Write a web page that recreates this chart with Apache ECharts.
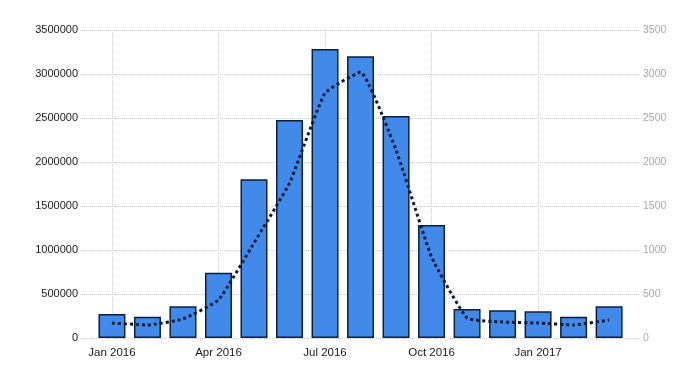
<!DOCTYPE html>
<html>
<head>
<meta charset="utf-8">
<script src="https://cdn.jsdelivr.net/npm/echarts@6/dist/echarts.min.js"></script>
<style>html,body{margin:0;padding:0;background:#fff}#c{width:700px;height:375px}</style>
</head>
<body>
<div id="c"></div>
<script>
var months = ['Jan 2016','Feb 2016','Mar 2016','Apr 2016','May 2016','Jun 2016','Jul 2016','Aug 2016','Sep 2016','Oct 2016','Nov 2016','Dec 2016','Jan 2017','Feb 2017','Mar 2017'];
var barValues = [273000, 242000, 360000, 742000, 1803000, 2477000, 3284000, 3201000, 2523000, 1284000, 330000, 315000, 303000, 242000, 360000];
var lineValues = [170, 148, 216, 432, 1080, 1760, 2783, 3022, 2136, 920, 227, 182, 170, 148, 204];
var tickIdx = [0, 3, 6, 9, 12];
var leftTicks = [0, 500000, 1000000, 1500000, 2000000, 2500000, 3000000, 3500000];
var rightTicks = [0, 500, 1000, 1500, 2000, 2500, 3000, 3500];

var font = "'Liberation Sans Narrow','Arial Narrow','Liberation Sans',Arial,sans-serif";
var chart = echarts.init(document.getElementById('c'));
chart.setOption({
  animation: false,
  backgroundColor: '#fff',
  grid: { left: 80, right: 60, top: 30, bottom: 37 },
  xAxis: {
    type: 'value',
    min: -0.9,
    max: 14.87,
    axisLine: { show: false },
    axisTick: { show: false, customValues: tickIdx },
    splitLine: { show: true, customValues: tickIdx, lineStyle: { color: '#cfcfcf', type: 'dotted', width: 1 } },
    axisLabel: {
      customValues: tickIdx,
      formatter: function (v) { return months[Math.round(v)]; },
      color: '#1a1a1a', fontFamily: font, fontSize: 11.5, margin: 9
    }
  },
  yAxis: [
    {
      type: 'value', min: leftTicks[0], max: leftTicks[leftTicks.length - 1], interval: 500000,
      axisLine: { show: false }, axisTick: { show: false },
      splitLine: { show: true, lineStyle: { color: '#cfcfcf', type: 'dotted', width: 1 } },
      axisLabel: { color: '#1a1a1a', fontFamily: font, fontSize: 11, margin: 2,
        formatter: function (v) { return String(v); } }
    },
    {
      type: 'value', min: rightTicks[0], max: rightTicks[rightTicks.length - 1], interval: 500,
      position: 'right',
      axisLine: { show: false }, axisTick: { show: false },
      splitLine: { show: false },
      axisLabel: { color: '#a8a8a8', fontFamily: font, fontSize: 10.5, margin: 3,
        formatter: function (v) { return String(v); } }
    }
  ],
  series: [
    {
      type: 'bar',
      yAxisIndex: 0,
      barWidth: 27,
      data: barValues.map(function (v, i) { return [i, v]; }),
      itemStyle: { color: '#428aea', borderColor: '#0b1f3d', borderWidth: 1.5 }
    },
    {
      type: 'line',
      yAxisIndex: 1,
      smooth: 0.12,
      symbol: 'none',
      data: lineValues.map(function (v, i) { return [i, v]; }),
      lineStyle: { color: '#0a1a38', width: 3, type: 'dotted' }
    }
  ]
});
</script>
</body>
</html>
